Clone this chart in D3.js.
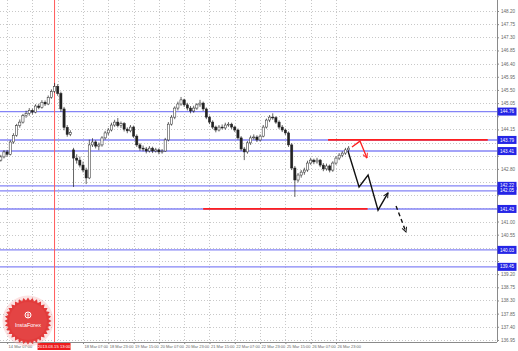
<!DOCTYPE html>
<html>
<head>
<meta charset="utf-8">
<script src="https://cdn.jsdelivr.net/npm/d3@7"></script>
<style>
  body { margin: 0; background: #fff; }
  svg { display: block; font-family: "Liberation Sans", Arial, sans-serif; }
</style>
</head>
<body>
<svg id="chart" width="518" height="351"></svg>
<script>
// H1-chart, hier als 2-Stunden-Kerzen nachgebaut

// Kerzen: [open, high, low, close], eine Kerze = 2 Stunden ab 14 Mar 03:00
const candles = [
  [143.10,143.28,143.05,143.21],[143.21,143.44,143.16,143.38],[143.38,143.45,143.22,143.30],
  [143.30,143.78,143.26,143.72],[143.72,144.02,143.66,143.95],[143.95,144.34,143.90,144.28],
  [144.28,144.49,144.21,144.40],[144.40,144.68,144.35,144.62],[144.62,144.79,144.55,144.70],
  [144.70,144.88,144.62,144.80],[144.80,144.86,144.66,144.74],[144.74,145.01,144.70,144.95],
  [144.95,145.03,144.84,144.90],[144.90,145.15,144.86,145.08],[145.08,145.14,144.95,145.02],
  [145.02,145.31,144.98,145.25],[145.25,145.52,145.20,145.45],[145.45,145.74,145.40,145.62],
  [145.62,145.70,145.30,145.38],[145.38,145.44,144.75,144.85],[144.85,144.92,144.12,144.22],
  [144.22,144.30,143.90,143.98],[143.98,144.12,143.92,144.05],[143.45,143.52,142.18,143.17],
  [143.17,143.30,142.98,143.10],[143.10,143.22,142.85,142.93],[142.93,143.05,142.68,142.76],
  [142.76,142.84,142.28,142.49],[142.49,143.80,142.45,143.62],[143.62,143.85,143.55,143.72],
  [143.72,143.78,143.50,143.58],[143.58,143.70,143.44,143.62],[143.62,143.92,143.56,143.86],
  [143.86,144.10,143.80,144.03],[144.03,144.20,143.95,144.13],[144.13,144.38,144.08,144.30],
  [144.30,144.48,144.24,144.40],[144.40,144.54,144.22,144.28],[144.28,144.42,144.20,144.35],
  [144.35,144.40,144.08,144.16],[144.16,144.22,144.02,144.10],[144.10,144.30,144.05,144.23],
  [144.23,144.28,143.86,143.92],[143.92,143.98,143.55,143.62],[143.62,143.68,143.42,143.51],
  [143.51,143.60,143.40,143.48],[143.48,143.55,143.33,143.41],[143.41,143.58,143.36,143.51],
  [143.51,143.56,143.34,143.41],[143.41,143.52,143.36,143.45],[143.45,143.50,143.30,143.38],
  [143.38,143.48,143.32,143.41],[143.41,143.86,143.38,143.79],[143.79,144.40,143.74,144.33],
  [144.33,144.64,144.28,144.57],[144.57,144.94,144.50,144.88],[144.88,145.10,144.80,145.02],
  [145.02,145.26,144.96,145.16],[145.16,145.20,144.92,144.99],[144.99,145.06,144.80,144.88],
  [144.88,144.95,144.70,144.78],[144.78,144.96,144.72,144.88],[144.88,145.05,144.82,144.99],
  [144.99,145.16,144.92,145.05],[145.05,145.10,144.78,144.85],[144.85,144.90,144.50,144.57],
  [144.57,144.62,144.33,144.40],[144.40,144.46,144.16,144.23],[144.23,144.28,144.05,144.13],
  [144.13,144.30,144.08,144.23],[144.23,144.32,144.15,144.20],[144.20,144.38,144.14,144.30],
  [144.30,144.40,144.24,144.33],[144.33,144.38,144.16,144.23],[144.23,144.28,144.06,144.13],
  [144.13,144.18,143.80,143.86],[143.86,143.92,143.42,143.48],[143.48,143.55,143.10,143.38],
  [143.38,143.75,143.32,143.69],[143.69,143.94,143.62,143.86],[143.86,143.98,143.80,143.89],
  [143.89,143.95,143.72,143.79],[143.79,143.98,143.74,143.92],[143.92,144.30,143.88,144.23],
  [144.23,144.52,144.18,144.47],[144.47,144.64,144.40,144.57],[144.57,144.70,144.48,144.55],
  [144.55,144.60,144.34,144.40],[144.40,144.46,144.16,144.23],[144.23,144.30,144.06,144.13],
  [144.13,144.18,143.96,144.03],[144.03,144.08,143.55,143.62],[143.62,143.68,142.76,142.83],
  [142.83,142.90,141.84,142.42],[142.42,142.66,142.34,142.59],[142.59,142.76,142.50,142.69],
  [142.69,142.84,142.60,142.76],[142.76,143.08,142.70,143.00],[143.00,143.18,142.94,143.10],
  [143.10,143.15,142.96,143.04],[143.04,143.18,142.98,143.10],[143.10,143.14,142.86,142.93],
  [142.93,143.00,142.72,142.80],[142.80,142.98,142.74,142.90],[142.90,142.95,142.68,142.76],
  [142.76,143.06,142.70,143.00],[143.00,143.24,142.94,143.17],[143.17,143.34,143.10,143.27],
  [143.27,143.40,143.20,143.34],[143.34,143.52,143.28,143.45],[143.45,143.58,143.40,143.51]
];
const barHours = 2;

// Preisachse
const priceTicks = [148.20,147.75,147.30,146.85,146.40,145.95,145.50,145.05,144.60,144.15,
  143.70,143.25,142.80,142.35,141.90,141.45,141.00,140.55,140.10,139.65,139.20,138.75,
  138.30,137.85,137.40,136.95];

// Zeitachse (Stundenindex, Beschriftung)
const timeHours  = [4, 20, 36, 52, 68, 84, 100, 116, 132, 148, 164, 180, 196, 212];
const timeLabels = ["14 Mar 07:00","14 Mar 23:00","15 Mar 15:00","18 Mar 07:00",
  "18 Mar 23:00","19 Mar 15:00","20 Mar 07:00","20 Mar 23:00","21 Mar 15:00","22 Mar 07:00",
  "22 Mar 23:00","25 Mar 15:00","26 Mar 07:00","26 Mar 23:00"];

// horizontale Niveaus
const blueLevels = [144.76, 143.79, 143.41, 142.22, 142.05, 141.43, 140.03, 139.45];
const redSegments = [
  { level: 143.79, from: 207, to: 308 },
  { level: 141.43, from: 128, to: 232 }
];
const cursorHour = 34, cursorLabel = "2013.03.15 13:00";

// Prognose-Pfeile [Stunde, Preis]
const blackPath  = [[219.6,143.41],[226.6,142.18],[232.3,142.59],[238.6,141.39],[244.9,141.98]];
const dashedPath = [[250.0,141.53],[256.3,140.64]];
const redPath    = [[222.1,143.55],[227.2,143.75],[231.6,143.17]];

const width = 518, height = 351;
const plotRight = 497, plotBottom = 342;

const svg = d3.select("#chart");

const x = d3.scaleLinear().domain([0, 327]).range([0.8, 517.8]);
const y = d3.scaleLinear().domain([148.576, 136.88]).range([0, plotBottom]);

svg.append("defs").append("clipPath").attr("id", "plot")
  .append("rect").attr("width", plotRight).attr("height", plotBottom);

const plot = svg.append("g").attr("clip-path", "url(#plot)");

// Gitter
plot.append("g").selectAll("line").data(priceTicks).join("line")
  .attr("x1", 0).attr("x2", plotRight)
  .attr("y1", d => Math.round(y(d)) + 0.5).attr("y2", d => Math.round(y(d)) + 0.5)
  .attr("stroke", "#c8c8c8").attr("stroke-dasharray", "1,2");
plot.append("g").selectAll("line").data(timeHours).join("line")
  .attr("x1", d => Math.round(x(d)) + 0.5).attr("x2", d => Math.round(x(d)) + 0.5)
  .attr("y1", 0).attr("y2", plotBottom)
  .attr("stroke", "#c8c8c8").attr("stroke-dasharray", "1,2");

// blaue Niveaus
plot.append("g").selectAll("line").data(blueLevels).join("line")
  .attr("x1", 0).attr("x2", plotRight)
  .attr("y1", d => y(d)).attr("y2", d => y(d))
  .attr("stroke", "#8484f6").attr("stroke-width", 1.4);

// rote Markierungslinie (Fadenkreuz)
plot.append("line")
  .attr("x1", x(cursorHour)).attr("x2", x(cursorHour))
  .attr("y1", 0).attr("y2", plotBottom)
  .attr("stroke", "#ff5a5a").attr("stroke-width", 1);

// rote Segmente
plot.append("g").selectAll("line").data(redSegments).join("line")
  .attr("x1", d => x(d.from)).attr("x2", d => x(d.to))
  .attr("y1", d => y(d.level)).attr("y2", d => y(d.level))
  .attr("stroke", "#ff1e1e").attr("stroke-width", 1.8);

// Kerzen
const bw = 2.2;
const cg = plot.append("g");
cg.selectAll("line").data(candles).join("line")
  .attr("x1", (d, i) => x(i * barHours)).attr("x2", (d, i) => x(i * barHours))
  .attr("y1", d => y(d[1])).attr("y2", d => y(d[2]))
  .attr("stroke", "#222").attr("stroke-width", 0.7);
cg.selectAll("rect").data(candles).join("rect")
  .attr("x", (d, i) => x(i * barHours) - bw / 2)
  .attr("width", bw)
  .attr("y", d => y(Math.max(d[0], d[3])))
  .attr("height", d => Math.max(0.8, Math.abs(y(d[0]) - y(d[3]))))
  .attr("fill", d => d[3] >= d[0] ? "#ffffff" : "#222")
  .attr("stroke", "#222").attr("stroke-width", 0.5);

// Pfeile
const defs = svg.select("defs");
function marker(id, color) {
  defs.append("marker").attr("id", id)
    .attr("viewBox", "0 0 10 10").attr("refX", 9).attr("refY", 5)
    .attr("markerWidth", 6).attr("markerHeight", 6).attr("orient", "auto")
    .attr("markerUnits", "userSpaceOnUse")
    .append("path").attr("d", "M1,1 L9,5 L1,9")
    .attr("fill", "none").attr("stroke", color).attr("stroke-width", 1.6);
}
marker("headBlack", "#111");
marker("headRed", "#ff2020");
const line = d3.line().x(d => x(d[0])).y(d => y(d[1]));
plot.append("path").attr("d", line(blackPath))
  .attr("fill", "none").attr("stroke", "#111").attr("stroke-width", 1.4)
  .attr("marker-end", "url(#headBlack)");
plot.append("path").attr("d", line(dashedPath))
  .attr("fill", "none").attr("stroke", "#111").attr("stroke-width", 1.4)
  .attr("stroke-dasharray", "4,3")
  .attr("marker-end", "url(#headBlack)");
plot.append("path").attr("d", line(redPath))
  .attr("fill", "none").attr("stroke", "#ff2020").attr("stroke-width", 1.3)
  .attr("marker-end", "url(#headRed)");

// rechte Achse (Beschriftungen unter markierten Preisen ausblenden)
const covered = d => blueLevels.some(l => Math.abs(y(l) - y(d)) < 6);
const yAxis = svg.append("g")
  .attr("transform", `translate(${plotRight},0)`)
  .call(d3.axisRight(y).tickValues(priceTicks)
    .tickFormat(d => covered(d) ? "" : d3.format(".2f")(d)).tickSize(2).tickPadding(2));
yAxis.select(".domain").attr("stroke", "#8a8a8a").attr("d", `M0.5,0V${plotBottom}`);
yAxis.selectAll(".tick line").attr("stroke", "#8a8a8a");
yAxis.selectAll("text").attr("font-size", 4.6).attr("fill", "#666").attr("font-family", null);

// untere Achse (Beschriftungen unter der Zeitmarke ausblenden)
const cx0 = x(cursorHour) - 17, cx1 = x(cursorHour) + 16;
const underCursor = d => x(d) + 22 > cx0 && x(d) < cx1;
const xAxis = svg.append("g")
  .attr("transform", `translate(0,${plotBottom})`)
  .call(d3.axisBottom(x).tickValues(timeHours)
    .tickFormat((d, i) => underCursor(d) ? "" : timeLabels[i])
    .tickSize(2).tickPadding(1));
xAxis.select(".domain").attr("stroke", "#8a8a8a").attr("d", `M0,0.5H${plotRight}`);
xAxis.selectAll(".tick line").attr("stroke", "#8a8a8a");
xAxis.selectAll("text").attr("font-size", 4).attr("fill", "#666")
  .attr("text-anchor", "start").attr("dx", 1).attr("font-family", null);

// markierte Preise
const tags = svg.append("g").selectAll("g").data(blueLevels).join("g")
  .attr("transform", d => `translate(${plotRight},${y(d)})`);
tags.append("rect").attr("x", 0.5).attr("y", -4).attr("width", 19).attr("height", 8)
  .attr("fill", "#2525e6");
tags.append("text").attr("x", 3).attr("dy", "0.35em")
  .attr("font-size", 4.6).attr("fill", "#fff").text(d => d3.format(".2f")(d));

// Zeitmarke unten
const tg = svg.append("g").attr("transform", `translate(${x(cursorHour)},${plotBottom + 1})`);
tg.append("rect").attr("x", -17).attr("y", 0).attr("width", 33).attr("height", 7)
  .attr("fill", "#ee1c1c");
tg.append("text").attr("x", -0.5).attr("y", 5.2).attr("text-anchor", "middle")
  .attr("font-size", 4.2).attr("fill", "#fff").text(cursorLabel);

// Logo-Plakette unten links
const logo = svg.append("g").attr("transform", "translate(28,321)");
const spikes = d3.range(64).map(i => [i * Math.PI / 32, i % 2 ? 20.5 : 23.5]);
logo.append("circle").attr("r", 25.5).attr("fill", "#f3b0b0").attr("opacity", 0.35);
logo.append("path").attr("d", d3.lineRadial().curve(d3.curveLinearClosed)(spikes))
  .attr("fill", "#e23b3b");
logo.append("circle").attr("r", 19).attr("fill", "#e44444");
logo.append("circle").attr("cy", -6).attr("r", 3).attr("fill", "none")
  .attr("stroke", "#fff").attr("stroke-width", 1);
logo.append("path").attr("d", "M0,-8 V-3 M-1.5,-6 H1.5")
  .attr("stroke", "#fff").attr("stroke-width", 0.8);
logo.append("text").attr("y", 6).attr("text-anchor", "middle")
  .attr("font-size", 5.5).attr("fill", "#fff").text("InstaForex");
</script>
</body>
</html>
